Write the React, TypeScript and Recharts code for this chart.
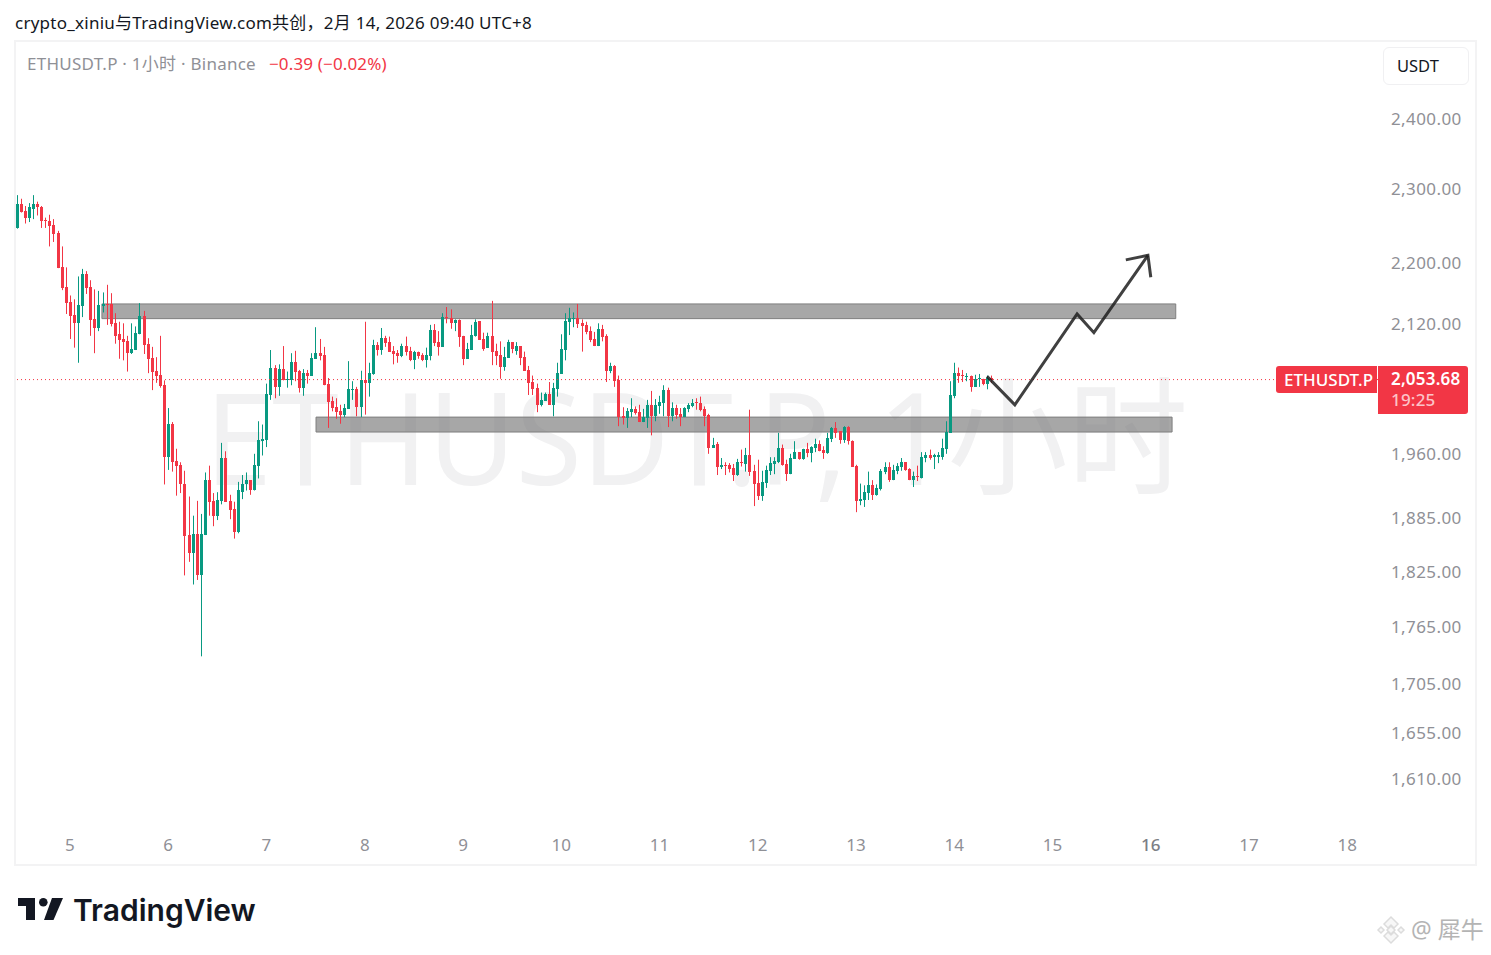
import { Bar, ComposedChart, Line, ReferenceArea, ReferenceLine, XAxis, YAxis } from 'recharts';

const FONT = '"Noto Sans", "Noto Sans CJK SC", sans-serif';
const UP = '#089981';
const DOWN = '#f23645';

// hours since the 5th 00:00, first candle sits 13 hours before that
const FIRST_HOUR = -13;

const opens = [
  2247,2280,2270,2261,2273,2280,2276,2258,2257,2251,
  2240,2194,2168,2148,2132,2121,2143,2185,2168,2126,
  2115,2143,2146,2146,2121,2107,2101,2098,2083,2087,
  2107,2130,2095,2077,2061,2056,2043,1956,1996,1952,
  1947,1925,1866,1846,1867,1821,1866,1929,1905,1888,
  1905,1955,1905,1896,1870,1915,1924,1929,1917,1946,
  1975,1976,2031,2065,2041,2063,2049,2049,2072,2061,
  2040,2058,2055,2076,2083,2081,2045,2024,2016,2011,
  2007,2014,2037,2038,2016,2049,2046,2057,2093,2087,
  2102,2097,2086,2083,2080,2092,2086,2074,2085,2081,
  2074,2080,2112,2097,2091,2129,2128,2121,2125,2105,
  2076,2087,2105,2124,2101,2090,2105,2086,2081,2066,
  2077,2097,2086,2092,2078,2062,2047,2040,2019,2024,
  2032,2019,2038,2057,2087,2123,2127,2128,2121,2119,
  2111,2101,2092,2114,2105,2061,2067,2049,2005,2003,
  2010,2014,2010,1998,2003,2019,2005,2017,2021,2037,
  2005,2015,2008,2004,2014,2017,2022,2021,2014,2007,
  1967,1972,1945,1947,1947,1943,1935,1950,1948,1958,
  1940,1926,1911,1926,1940,1948,1950,1967,1948,1936,
  1954,1962,1954,1966,1961,1967,1972,1965,1961,1978,
  1991,1987,1976,1992,1975,1946,1905,1906,1914,1923,
  1912,1919,1939,1945,1929,1940,1945,1950,1942,1929,
  1934,1932,1955,1959,1956,1956,1956,1966,1985,2030,
  2058,2056,2054,2055,2041,2051,2051,2045,2052,
];

const highs = [
  2292,2287,2277,2281,2292,2283,2277,2261,2265,2259,
  2243,2222,2194,2157,2152,2182,2192,2189,2177,2165,
  2163,2161,2171,2160,2134,2123,2121,2105,2121,2117,
  2147,2137,2102,2091,2078,2105,2049,2015,1998,1966,
  1950,1940,1910,1888,1905,1890,1938,1946,1914,1915,
  1973,1963,1912,1904,1927,1935,1938,1929,1960,1999,
  1995,2045,2087,2068,2069,2092,2060,2083,2086,2062,
  2063,2062,2083,2116,2101,2091,2052,2029,2027,2019,
  2020,2073,2048,2041,2061,2123,2071,2100,2097,2115,
  2105,2104,2092,2087,2095,2104,2091,2086,2085,2083,
  2090,2119,2120,2111,2134,2142,2139,2126,2126,2105,
  2096,2119,2126,2124,2109,2109,2150,2095,2098,2091,
  2100,2097,2097,2092,2085,2067,2055,2045,2034,2034,
  2047,2046,2071,2107,2134,2141,2135,2146,2126,2123,
  2117,2110,2121,2119,2107,2071,2068,2055,2016,2015,
  2027,2017,2019,2014,2025,2036,2026,2030,2043,2040,
  2022,2019,2015,2016,2021,2026,2027,2029,2017,2008,
  1979,1974,1955,1950,1949,1948,1954,1965,1967,2013,
  1947,1953,1940,1946,1956,1956,1985,1971,1953,1960,
  1975,1962,1966,1973,1969,1978,1976,1969,1985,1992,
  1998,1987,1993,1993,1976,1947,1925,1923,1939,1929,
  1924,1942,1950,1950,1947,1949,1955,1950,1943,1939,
  1946,1962,1962,1965,1960,1962,1978,1999,2048,2071,
  2065,2062,2058,2055,2056,2057,2051,2055,2055,
];

const lows = [
  2246,2268,2253,2255,2259,2264,2247,2247,2222,2228,
  2193,2164,2133,2101,2090,2071,2129,2159,2105,2083,
  2111,2135,2119,2117,2095,2076,2074,2060,2082,2087,
  2107,2082,2058,2037,2046,2040,1924,1941,1939,1911,
  1914,1821,1836,1811,1816,1734,1866,1888,1876,1883,
  1901,1904,1884,1862,1868,1907,1917,1912,1917,1931,
  1958,1968,2025,2027,2030,2049,2040,2043,2048,2034,
  2030,2045,2055,2076,2074,2043,1991,2011,2002,1996,
  2004,2014,2025,2005,2004,2007,2029,2056,2080,2081,
  2091,2085,2069,2071,2078,2080,2073,2063,2076,2073,
  2065,2074,2092,2080,2091,2121,2114,2111,2091,2068,
  2076,2087,2104,2100,2086,2090,2068,2068,2051,2061,
  2077,2083,2081,2068,2061,2031,2031,2010,2017,2024,
  2019,2005,2029,2057,2074,2106,2116,2115,2085,2107,
  2097,2092,2092,2098,2047,2058,2041,1993,1995,1991,
  2004,2007,1998,1998,1991,1982,1999,2008,2005,1992,
  1999,2002,1993,2004,2010,2016,2013,2011,1993,1960,
  1967,1935,1942,1935,1938,1928,1934,1945,1939,1934,
  1899,1906,1905,1920,1935,1936,1949,1946,1928,1936,
  1954,1953,1953,1956,1950,1962,1963,1954,1960,1974,
  1979,1972,1973,1971,1945,1892,1900,1898,1906,1906,
  1911,1917,1936,1927,1929,1936,1940,1940,1929,1921,
  1928,1931,1950,1953,1942,1949,1953,1960,1985,2027,
  2046,2047,2048,2035,2041,2041,2043,2038,2046,
];

const closes = [
  2280,2269,2261,2275,2280,2275,2257,2257,2250,2239,
  2193,2167,2147,2130,2121,2145,2185,2167,2125,2115,
  2145,2146,2145,2120,2105,2100,2097,2083,2088,2109,
  2130,2093,2076,2060,2055,2042,1956,1996,1950,1946,
  1924,1865,1846,1867,1821,1867,1929,1904,1888,1906,
  1955,1904,1894,1870,1917,1925,1929,1917,1947,1976,
  1978,2032,2065,2041,2063,2049,2051,2072,2060,2040,
  2058,2055,2077,2083,2080,2043,2022,2015,2010,2007,
  2015,2038,2038,2016,2049,2046,2058,2093,2087,2102,
  2096,2085,2082,2080,2092,2085,2074,2085,2080,2074,
  2081,2112,2096,2091,2129,2128,2121,2125,2104,2076,
  2088,2106,2123,2100,2088,2105,2085,2080,2066,2078,
  2097,2088,2092,2077,2061,2046,2038,2019,2025,2032,
  2019,2040,2058,2088,2124,2128,2128,2120,2117,2110,
  2100,2092,2114,2104,2061,2067,2048,2004,2003,2011,
  2014,2009,1998,2004,2019,2005,2019,2022,2037,2005,
  2015,2007,2004,2015,2019,2021,2021,2013,2005,1967,
  1971,1945,1947,1946,1942,1935,1950,1949,1958,1939,
  1925,1911,1927,1941,1949,1952,1967,1947,1936,1955,
  1962,1954,1966,1961,1968,1972,1963,1961,1979,1991,
  1985,1976,1992,1975,1945,1905,1907,1915,1923,1912,
  1920,1940,1945,1929,1941,1946,1950,1941,1929,1934,
  1933,1956,1959,1955,1958,1958,1967,1986,2031,2058,
  2055,2054,2055,2041,2051,2052,2045,2052,2049,
];

const priceTicks = [2400, 2300, 2200, 2120, 1960, 1885, 1825, 1765, 1705, 1655, 1610];
const dayHours = [0, 24, 48, 72, 96, 120, 144, 168, 192, 216, 240, 264, 288, 312];
const dayLabels = ['5', '6', '7', '8', '9', '10', '11', '12', '13', '14', '15', '16', '17', '18'];

// drawn zones and the projected path, in hours / price
const zones = [
  { x1: 7.8, x2: 270.1, top: 2146, bottom: 2127 },
  { x1: 60.1, x2: 269.2, top: 2004, bottom: 1986 },
];
const pathHours = [224, 230.8, 246, 250.1, 263.3];
const pathPrices = [2054, 2019, 2133, 2109, 2210];
const headHours = [257.9, 263.3, 264];
const headPrices = [2204, 2210, 2181];
const PRICE_LINE = 2050;

const candles = opens.map((open, i) => ({
  hour: FIRST_HOUR + i,
  open,
  close: closes[i],
  high: highs[i],
  low: lows[i],
  range: [lows[i], highs[i]],
}));
const pathData = pathHours.map((hour, i) => ({ hour, price: pathPrices[i] }));
const headData = headHours.map((hour, i) => ({ hour, price: headPrices[i] }));

// bar shape gets high..low from the scale, body is placed inside it on the same log scale
function Candle(props: any) {
  const { x, y, width, height, payload } = props;
  const { open, close, high, low } = payload;
  const color = close >= open ? UP : DOWN;
  const span = Math.log(high / low) || 1;
  const top = y + (height * Math.log(high / Math.max(open, close))) / span;
  const bottom = y + (height * Math.log(high / Math.min(open, close))) / span;
  const cx = Math.round(x + width / 2);
  return (
    <g>
      <rect x={cx} y={y} width={1} height={Math.max(height, 1)} fill={color} />
      <rect x={cx - 1} y={Math.round(top)} width={3} height={Math.max(Math.round(bottom) - Math.round(top), 1)} fill={color} />
    </g>
  );
}

function DayTick({ x, y, payload }: any) {
  const label = dayLabels[dayHours.indexOf(payload.value)];
  return (
    <text x={x} y={y} dy={14} textAnchor="middle" fontSize={17} fill={label === '16' ? '#7c7e85' : '#8f9096'} fontWeight={label === '16' ? 500 : 400} style={{ fontFamily: FONT }}>
      {label}
    </text>
  );
}

function Label({ x, y, color, size = 17, weight = 400, spacing = 0.25, children }: any) {
  return (
    <div
      style={{
        position: 'absolute',
        left: x,
        top: y,
        color,
        fontSize: size,
        fontWeight: weight,
        letterSpacing: spacing,
        lineHeight: '20px',
        whiteSpace: 'nowrap',
      }}
    >
      {children}
    </div>
  );
}

export default function App() {
  return (
    <div style={{ position: 'absolute', left: 0, top: 0, width: 1491, height: 955, background: '#fff', fontFamily: FONT, overflow: 'hidden' }}>
      <div style={{ position: 'absolute', left: 14, top: 40, width: 1459, height: 822, border: '2px solid #f3f3f4' }} />

      <svg width={1491} height={955} style={{ position: 'absolute', left: 0, top: 0 }}>
        <text x={205} y={485} fontSize={128} fill="#f1f1f2" textLength={983} lengthAdjust="spacingAndGlyphs" style={{ fontFamily: FONT }}>
          ETHUSDT.P, 1小时
        </text>
      </svg>

      <div style={{ position: 'absolute', left: 0, top: 0 }}>
        <ComposedChart width={1491} height={955} data={candles} margin={{ top: 41, right: 15, bottom: 90, left: 15 }}>
          <XAxis
            dataKey="hour"
            type="number"
            domain={[-13.43, 319.5]}
            allowDataOverflow
            ticks={dayHours}
            height={36}
            axisLine={false}
            tickLine={false}
            tickSize={0}
            tickMargin={8}
            tick={<DayTick />}
          />
          <YAxis
            orientation="right"
            scale="log"
            domain={[1562, 2516]}
            allowDataOverflow
            ticks={priceTicks}
            tickFormatter={(v) => v.toLocaleString('en-US', { minimumFractionDigits: 2 })}
            width={98}
            axisLine={false}
            tickLine={false}
            tickSize={0}
            tickMargin={13}
            tick={{ fontSize: 17, fill: '#8f9096', fontFamily: FONT, letterSpacing: 0.4 }}
          />
          {zones.map((z) => (
            <ReferenceArea
              key={z.x1}
              x1={z.x1}
              x2={z.x2}
              y1={z.bottom}
              y2={z.top}
              fill="#787878"
              fillOpacity={0.65}
              stroke="#7f7f7f"
              strokeWidth={1}
            />
          ))}
          <ReferenceLine y={PRICE_LINE} stroke={DOWN} strokeDasharray="1 3" />
          <Bar dataKey="range" barSize={3} shape={<Candle />} isAnimationActive={false} />
          <Line data={pathData} dataKey="price" stroke="#1f1f1f" strokeOpacity={0.85} strokeWidth={3} dot={false} isAnimationActive={false} />
          <Line data={headData} dataKey="price" stroke="#1f1f1f" strokeOpacity={0.85} strokeWidth={3} dot={false} isAnimationActive={false} />
        </ComposedChart>
      </div>

      <Label x={15} y={13} color="#131722">crypto_xiniu与TradingView.com共创，2月 14, 2026 09:40 UTC+8</Label>
      <Label x={27} y={54} color="#8f9096">ETHUSDT.P · 1小时 · Binance</Label>
      <Label x={269} y={54} color={DOWN} spacing={0.15}>−0.39 (−0.02%)</Label>

      <div style={{ position: 'absolute', left: 1383, top: 47, width: 84, height: 36, border: '1px solid #f0f0f2', borderRadius: 6 }} />
      <Label x={1397} y={56} color="#131722" size={16.5} spacing={0}>USDT</Label>

      <div style={{ position: 'absolute', left: 1276, top: 366, width: 101, height: 27, background: DOWN, borderRadius: '3px 0 0 3px' }} />
      <div style={{ position: 'absolute', left: 1378, top: 366, width: 90, height: 48, background: DOWN, borderRadius: '0 3px 3px 0' }} />
      <Label x={1284} y={370} color="#fff" weight={500} spacing={0}>ETHUSDT.P</Label>
      <Label x={1391} y={369} color="#fff" weight={600} spacing={0.2}>2,053.68</Label>
      <Label x={1391} y={390} color="#fcc3c8" weight={500} spacing={0.2}>19:25</Label>

      <svg width={1491} height={955} style={{ position: 'absolute', left: 0, top: 0 }}>
        <path d="M18 898H35V920H26V906H18Z" fill="#131722" />
        <circle cx={43.3} cy={902.3} r={4.3} fill="#131722" />
        <path d="M52 898H63L53.5 920H44Z" fill="#131722" />
        <text x={73} y={921} fontSize={30} fontWeight={600} fill="#131722" style={{ fontFamily: 'Inter' }}>
          TradingView
        </text>
        <g fill="#f7f7f7" stroke="#dcdcdc" strokeWidth={1.5}>
          <path d="M1384 924L1391 917L1398 924L1394 928L1391 925L1388 928Z" />
          <path d="M1384 936L1391 943L1398 936L1394 932L1391 935L1388 932Z" />
          <path d="M1378 930L1381 927L1384 930L1381 933Z" />
          <path d="M1398 930L1401 927L1404 930L1401 933Z" />
          <path d="M1387 930L1391 926L1395 930L1391 934Z" />
        </g>
        <text x={1411} y={938} fontSize={23} fill="#b4b4b4" style={{ fontFamily: FONT }}>
          @ 犀牛
        </text>
      </svg>
    </div>
  );
}
